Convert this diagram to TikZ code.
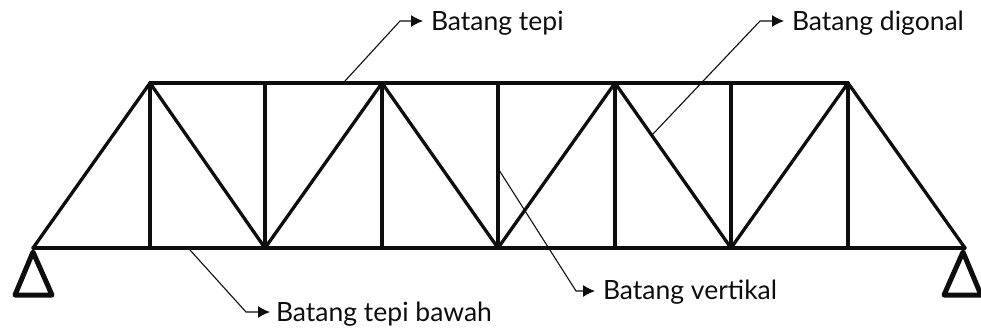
\documentclass[tikz,border=0pt]{standalone}
\usepackage{fontspec}
\setmainfont{Lato}
\usetikzlibrary{arrows.meta}
\definecolor{ink}{gray}{0.05}
\tikzset{
  member/.style={draw=ink,line width=3.3pt,line cap=round,line join=round},
  support/.style={draw=ink,line width=5pt,line join=round,fill=white},
  leader/.style={draw=ink,line width=1.1pt,-{Latex[length=12pt,width=12pt]}},
  lab/.style={anchor=west,inner sep=0pt,outer sep=0pt,font=\fontsize{26.5}{30}\selectfont,text=ink},
}
\begin{document}
\begin{tikzpicture}[x=1pt,y=-1pt]
\useasboundingbox (0,0) rectangle (981,330);
% joints
\foreach \n/\x in {t1/150,t2/382,t3/615,t4/848,m1/265,m2/498,m3/731}{\coordinate (\n) at (\x,83);}
\foreach \n/\x in {b0/33,b1/150,b2/265,b3/382,b4/498,b5/615,b6/731,b7/848,b8/965}{\coordinate (\n) at (\x,248);}
% supports
\draw[support] (33,252) -- (15,295) -- (52,295) -- cycle;
\draw[support] (963,252) -- (944,295) -- (981,295) -- cycle;
% chords
\draw[member] (t1) -- (t4);
\draw[member] (b0) -- (b8);
% verticals
\draw[member] (t1) -- (b1);
\draw[member] (m1) -- (b2);
\draw[member] (t2) -- (b3);
\draw[member] (m2) -- (b4);
\draw[member] (t3) -- (b5);
\draw[member] (m3) -- (b6);
\draw[member] (t4) -- (b7);
% diagonals
\draw[member] (b0) -- (t1) -- (b2) -- (t2) -- (b4) -- (t3) -- (b6) -- (t4) -- (b8);
% labels
\node[lab] (la) at (431,23) {Batang tepi};
\node[lab] (lb) at (792,23) {Batang digonal};
\node[lab] (lc) at (603,292) {Batang vertikal};
\node[lab] (ld) at (276,314) {Batang tepi bawah};
% leader starts and arrow ends
\coordinate (sa) at (345,81);
\coordinate (sb) at (653,134);
\coordinate (sc) at (499,170);
\coordinate (sd) at (190,250);
\draw[leader] (sa) -- (400,21) -- ([xshift=-8pt]la.west |- 0,21);
\draw[leader] (sb) -- (760,21) -- ([xshift=-8pt]lb.west |- 0,21);
\draw[leader] (sc) -- (576,291) -- ([xshift=-8pt]lc.west |- 0,291);
\draw[leader] (sd) -- (246,312) -- ([xshift=-6pt]ld.west |- 0,312);
\end{tikzpicture}
\end{document}
